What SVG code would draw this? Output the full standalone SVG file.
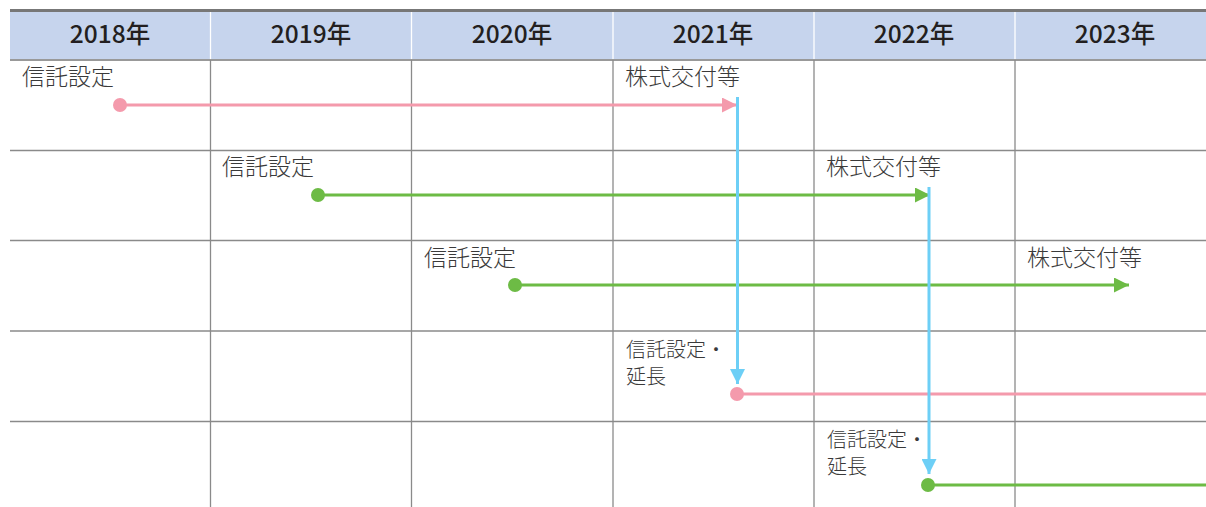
<svg xmlns="http://www.w3.org/2000/svg" width="1206" height="507" viewBox="0 0 1206 507">
<style>
.grid{stroke:#8a8a8a;stroke-width:1.3;fill:none}
.hd{font-family:"Noto Sans CJK JP","Noto Sans",sans-serif;font-size:24.5px;font-weight:500;fill:#231f20;text-anchor:middle}
.lb{font-family:"Noto Sans CJK JP","Noto Sans",sans-serif;font-size:23px;font-weight:300;fill:#3a3a3a}
.sm{font-size:20px}
.pk{stroke:#f49aac;stroke-width:3;fill:none}
.gr{stroke:#6dbb45;stroke-width:3;fill:none}
.bl{stroke:#6dcff6;stroke-width:3;fill:none}
</style>
<defs>
<marker id="ap" viewBox="0 0 10 10" refX="10" refY="5" markerWidth="5" markerHeight="5" orient="auto" markerUnits="strokeWidth"><path d="M0,0L10,5L0,10z" fill="#f49aac"/></marker>
<marker id="ag" viewBox="0 0 10 10" refX="10" refY="5" markerWidth="5" markerHeight="5" orient="auto" markerUnits="strokeWidth"><path d="M0,0L10,5L0,10z" fill="#6dbb45"/></marker>
<marker id="ab" viewBox="0 0 10 10" refX="10" refY="5" markerWidth="5" markerHeight="5" orient="auto" markerUnits="strokeWidth"><path d="M0,0L10,5L0,10z" fill="#6dcff6"/></marker>
</defs>
<rect width="1206" height="507" fill="#fff"/>
<g id="header">
<rect x="10" y="11" width="1196" height="49" fill="#c6d4ed"/>
<line x1="10" y1="10.5" x2="1206" y2="10.5" stroke="#777" stroke-width="3"/>
<g stroke="#fff" stroke-width="1.3"><line x1="210.5" y1="12" x2="210.5" y2="59"/><line x1="411.5" y1="12" x2="411.5" y2="59"/><line x1="613" y1="12" x2="613" y2="59"/><line x1="814" y1="12" x2="814" y2="59"/><line x1="1015" y1="12" x2="1015" y2="59"/></g>
<text class="hd" x="110" y="43">2018年</text>
<text class="hd" x="311" y="43">2019年</text>
<text class="hd" x="512" y="43">2020年</text>
<text class="hd" x="713" y="43">2021年</text>
<text class="hd" x="914" y="43">2022年</text>
<text class="hd" x="1115" y="43">2023年</text>
</g>
<g id="grid" class="grid">
<line x1="10" y1="60" x2="1206" y2="60" stroke-width="2" stroke="#999"/>
<line x1="10" y1="150.5" x2="1206" y2="150.5"/>
<line x1="10" y1="240.5" x2="1206" y2="240.5"/>
<line x1="10" y1="331" x2="1206" y2="331"/>
<line x1="10" y1="421.5" x2="1206" y2="421.5"/>
<line x1="210.5" y1="60" x2="210.5" y2="507"/>
<line x1="411.5" y1="60" x2="411.5" y2="507"/>
<line x1="613" y1="60" x2="613" y2="507"/>
<line x1="814" y1="60" x2="814" y2="507"/>
<line x1="1015" y1="60" x2="1015" y2="507"/>
</g>
<g id="labels" class="lb">
<text x="22" y="85">信託設定</text>
<text x="625" y="85">株式交付等</text>
<text x="222" y="175">信託設定</text>
<text x="826" y="175">株式交付等</text>
<text x="424" y="266">信託設定</text>
<text x="1027" y="266">株式交付等</text>
<text class="sm" x="626" y="357">信託設定・</text>
<text class="sm" x="626" y="384">延長</text>
<text class="sm" x="827" y="447">信託設定・</text>
<text class="sm" x="827" y="474">延長</text>
</g>
<g id="connectors">
<line class="pk" x1="120" y1="105" x2="737" y2="105" marker-end="url(#ap)"/>
<line class="gr" x1="318" y1="195" x2="930" y2="195" marker-end="url(#ag)"/>
<line class="gr" x1="515" y1="285" x2="1129" y2="285" marker-end="url(#ag)"/>
<line class="pk" x1="737" y1="394" x2="1206" y2="394"/>
<line class="gr" x1="928" y1="485" x2="1206" y2="485"/>
<line class="bl" x1="737.5" y1="97" x2="737.5" y2="384" marker-end="url(#ab)"/>
<line class="bl" x1="929" y1="187" x2="929" y2="474" marker-end="url(#ab)"/>
<circle cx="120" cy="105" r="7" fill="#f49aac"/>
<circle cx="318" cy="195" r="7" fill="#6dbb45"/>
<circle cx="515" cy="285" r="7" fill="#6dbb45"/>
<circle cx="737" cy="394" r="7" fill="#f49aac"/>
<circle cx="928" cy="485" r="7" fill="#6dbb45"/>
</g>
</svg>
